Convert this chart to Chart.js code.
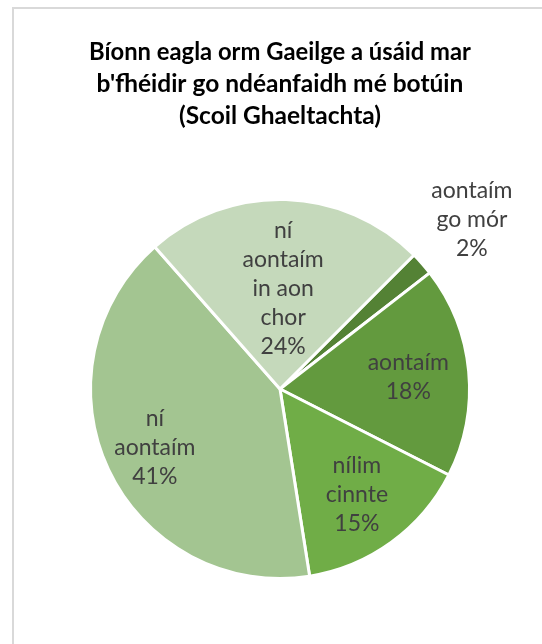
<!DOCTYPE html>
<html>
<head>
<meta charset="utf-8">
<script src="https://cdn.jsdelivr.net/npm/chart.js@4.4.0/dist/chart.umd.min.js"></script>
<style>
  html, body { margin: 0; padding: 0; background: #fff; }
  #wrap { position: relative; width: 542px; height: 644px; overflow: hidden; }
  #frame { position: absolute; left: 12px; top: 7px; width: 600px; height: 700px;
           border-left: 2px solid #d9d9d9; border-top: 2px solid #d9d9d9; box-sizing: border-box; }
  #c { position: absolute; left: 0; top: 0; }
</style>
</head>
<body>
<div id="wrap">
  <div id="frame"></div>
  <canvas id="c" width="542" height="644"></canvas>
</div>
<script>
const titleLines = ["Bíonn eagla orm Gaeilge a úsáid mar", "b'fhéidir go ndéanfaidh mé botúin", "(Scoil Ghaeltachta)"];
const categories = ["aontaím go mór", "aontaím", "nílim cinnte", "ní aontaím", "ní aontaím in aon chor"];
const labelLines = [["aontaím", "go mór"], ["aontaím"], ["nílim", "cinnte"], ["ní", "aontaím"], ["ní", "aontaím", "in aon", "chor"]];
const percentages = [2, 18, 15, 41, 24];
const sliceColors = ["#548235", "#639A3E", "#70AD47", "#A3C591", "#C5D9BB"];
const labelRadius = [1.35, 0.68, 0.69, 0.73, 0.53];

const labelPlugin = {
  id: 'sliceLabels',
  afterDatasetsDraw(chart) {
    const ctx = chart.ctx;
    const meta = chart.getDatasetMeta(0);
    ctx.save();
    ctx.font = '23px Lato';
    ctx.fillStyle = '#404040';
    ctx.textAlign = 'center';
    ctx.textBaseline = 'middle';
    const lh = 29;
    meta.data.forEach((arc, i) => {
      const p = arc.getProps(['x', 'y', 'startAngle', 'endAngle', 'outerRadius'], true);
      const mid = (p.startAngle + p.endAngle) / 2;
      const r = p.outerRadius * labelRadius[i];
      const cx = p.x + Math.cos(mid) * r;
      const cy = p.y + Math.sin(mid) * r;
      const lines = labelLines[i].concat([percentages[i] + '%']);
      const top = cy - (lines.length - 1) * lh / 2;
      lines.forEach((t, k) => ctx.fillText(t, cx, top + k * lh));
    });
    ctx.restore();
  }
};

new Chart(document.getElementById('c'), {
  type: 'pie',
  data: {
    labels: categories,
    datasets: [{
      data: percentages,
      backgroundColor: sliceColors,
      borderColor: '#ffffff',
      borderWidth: 3
    }]
  },
  options: {
    responsive: false,
    animation: false,
    rotation: 45,
    layout: { padding: { left: 89, right: 71, top: 0, bottom: 64 } },
    plugins: {
      legend: { display: false },
      tooltip: { enabled: false },
      title: {
        display: true,
        text: titleLines,
        color: '#000000',
        font: { family: 'Lato', size: 24.5, weight: 'bold', lineHeight: 32 / 24.5 },
        padding: { top: 36, bottom: 66 }
      }
    }
  },
  plugins: [labelPlugin]
});
</script>
</body>
</html>
